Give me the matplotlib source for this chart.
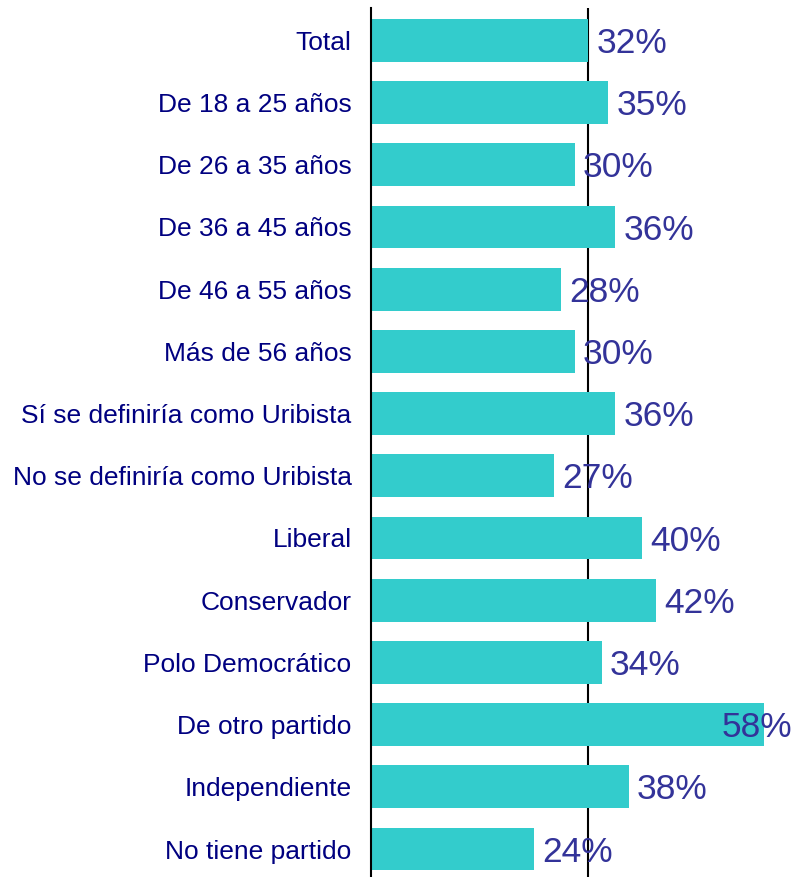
import matplotlib.pyplot as plt

plt.rcParams['font.family'] = ['Liberation Sans', 'DejaVu Sans']

categories = ['Total', 'De 18 a 25 años', 'De 26 a 35 años', 'De 36 a 45 años',
              'De 46 a 55 años', 'Más de 56 años', 'Sí se definiría como Uribista',
              'No se definiría como Uribista', 'Liberal', 'Conservador',
              'Polo Democrático', 'De otro partido', 'Independiente', 'No tiene partido']
values = [32, 35, 30, 36, 28, 30, 36, 27, 40, 42, 34, 58, 38, 24]
reference = 32  # line at the Total value

fig = plt.figure(figsize=(7.95, 8.77), dpi=100)
ax = fig.add_axes([371 / 795, 0, 1 - 371 / 795, 869 / 877])

y = list(range(len(categories)))
ax.barh(y, values, height=0.69, color='#33CCCC', zorder=2)
ax.axvline(reference, color='black', lw=1.5, zorder=1)

xmax = 62.5
ax.set_xlim(0, xmax)
ax.set_ylim(13.45, -0.52)

fs = 25.5
for yi, v in zip(y, values):
    if v + 9 > xmax:
        x, ha = xmax - 0.4, 'right'
    else:
        x, ha = v + 1.2, 'left'
    ax.annotate(f'{v}%', (x, yi), xytext=(0, -0.358 * fs), textcoords='offset points',
                ha=ha, va='baseline', fontsize=fs, color='#333399', zorder=3)

ax.set_yticks(y)
ax.set_yticklabels(categories, fontsize=19, color='#000080')
ax.tick_params(axis='y', length=0, pad=14)
ax.set_xticks([])
for s in ['top', 'right', 'bottom']:
    ax.spines[s].set_visible(False)
ax.spines['left'].set_linewidth(1.5)
ax.spines['left'].set_zorder(4)

fig.savefig('out.png', dpi=100)
